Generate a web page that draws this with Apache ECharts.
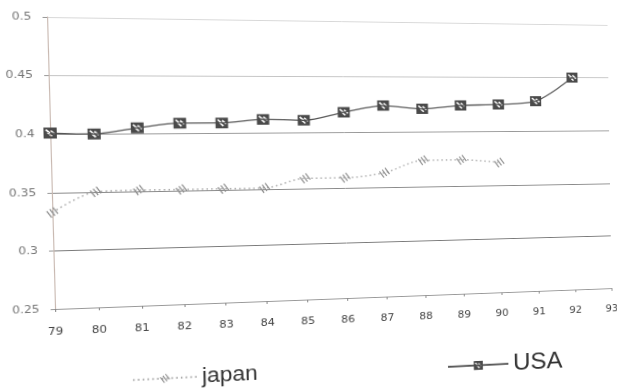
<!DOCTYPE html>
<html>
<head>
<meta charset="utf-8">
<script src="https://cdn.jsdelivr.net/npm/echarts@6/dist/echarts.min.js"></script>
<style>
  html, body { margin: 0; padding: 0; background: #fff; overflow: hidden; width: 617px; height: 390px; }
  #chart { width: 617px; height: 430px; transform-origin: 0 0; }
</style>
</head>
<body>
<div id="chart"></div>
<script>
// Year labels along the bottom (two-digit years)
const years = ['79', '80', '81', '82', '83', '84', '85', '86', '87', '88', '89', '90', '91', '92', '93'];
// Ratio values per year
const usaValues = [0.401, 0.400, 0.405, 0.409, 0.409, 0.412, 0.411, 0.418, 0.424, 0.421, 0.424, 0.425, 0.428, 0.450];
const japanValues = [0.333, 0.350, 0.351, 0.351, 0.351, 0.351, 0.359, 0.359, 0.363, 0.374, 0.374, 0.371];
// Value-axis range
const yMin = 0.25, yMax = 0.5, yStep = 0.05;

// Dark square with three diagonal slits cut out (opposite winding makes holes)
const usaSymbol = 'path://M0 0L10 0L10 10L0 10Z' +
  'M1.2 2.4L4.4 5.6L5.4 4.6L2.2 1.4Z' +
  'M2.6 5.2L5.8 8.4L6.8 7.4L3.6 4.2Z' +
  'M4.8 3.2L8 6.4L9 5.4L5.8 2.2Z';
// Three thin diagonal strokes
const japanSymbol = 'path://M0 3L4 8L4.8 7.4L0.8 2.4Z' +
  'M2.5 1.6L6.5 6.6L7.3 6L3.3 1Z' +
  'M5 0.2L9 5.2L9.8 4.6L5.8 -0.4Z';

// Page tilt: the sheet is seen slightly in perspective, so the flat plot
// rectangle is projected onto a skewed quadrilateral.
const flatCorners = [[48, 17], [612, 17], [48, 310], [612, 310]];
const seenCorners = [[47, 17], [612, 25], [55, 309], [616, 288]];

function homography(src, dst) {
  const A = [], b = [];
  for (let i = 0; i < 4; i++) {
    const [x, y] = src[i], [u, v] = dst[i];
    A.push([x, y, 1, 0, 0, 0, -u * x, -u * y]); b.push(u);
    A.push([0, 0, 0, x, y, 1, -v * x, -v * y]); b.push(v);
  }
  const n = 8;
  for (let c = 0; c < n; c++) {
    let p = c;
    for (let r = c + 1; r < n; r++) if (Math.abs(A[r][c]) > Math.abs(A[p][c])) p = r;
    [A[c], A[p]] = [A[p], A[c]]; [b[c], b[p]] = [b[p], b[c]];
    for (let r = 0; r < n; r++) {
      if (r === c) continue;
      const f = A[r][c] / A[c][c];
      for (let k = c; k < n; k++) A[r][k] -= f * A[c][k];
      b[r] -= f * b[c];
    }
  }
  return b.map((v, i) => v / A[i][i]);
}
function project(h, x, y) {
  const w = h[6] * x + h[7] * y + 1;
  return [(h[0] * x + h[1] * y + h[2]) / w, (h[3] * x + h[4] * y + h[5]) / w];
}
const h = homography(flatCorners, seenCorners);
const hInv = homography(seenCorners, flatCorners);
document.getElementById('chart').style.transform =
  'matrix3d(' + [h[0], h[3], 0, h[6], h[1], h[4], 0, h[7], 0, 0, 1, 0, h[2], h[5], 0, 1].join(',') + ')';

// Legend entries placed by where their icon starts / item centre sits on the tilted page
const japanKeyAt = project(hInv, 132, 382);
const usaKeyAt = project(hInv, 447, 367);

const chart = echarts.init(document.getElementById('chart'), null, { renderer: 'canvas' });
chart.setOption({
  backgroundColor: '#ffffff',
  animation: false,
  grid: { left: 48, right: 5, top: 17, bottom: 120, containLabel: false },
  legend: [
    {
      data: ['japan'], left: japanKeyAt[0] - 5, top: japanKeyAt[1] - 18,
      itemWidth: 60, itemHeight: 12,
      textStyle: { fontFamily: 'Liberation Sans', fontSize: 22, color: '#333' }
    },
    {
      data: ['USA'], left: usaKeyAt[0] - 5, top: usaKeyAt[1] - 18,
      itemWidth: 64, itemHeight: 12,
      textStyle: { fontFamily: 'Liberation Sans', fontSize: 26, color: '#333' }
    }
  ],
  xAxis: {
    type: 'category', data: years, boundaryGap: false,
    axisLine: { lineStyle: { color: '#999', width: 1, type: [6, 3] } },
    axisTick: { show: true, length: 3, lineStyle: { color: '#888' } },
    axisLabel: { margin: 18, fontFamily: 'DejaVu Sans', fontSize: 11, color: '#444' },
    splitLine: { show: false }
  },
  yAxis: {
    type: 'value', min: yMin, max: yMax, interval: yStep,
    axisLine: { show: true, lineStyle: { color: '#c8b8b0', width: 1 } },
    axisTick: { show: true, length: 4, lineStyle: { color: '#999' } },
    axisLabel: { margin: 14, fontFamily: 'DejaVu Sans', fontSize: 11, color: '#777' },
    splitLine: { show: true, lineStyle: { color: ['#999', '#7a7a7a', '#8a8a8a', '#999', '#c4c4c4', '#d8d8d8'], width: 1 } }
  },
  series: [
    {
      name: 'japan', type: 'line', data: japanValues, smooth: 0.3,
      symbol: japanSymbol, symbolSize: [11, 11], showSymbol: true,
      lineStyle: { color: '#aaa', width: 1.5, type: [1.5, 3] },
      itemStyle: { color: '#8c8c8c' }
    },
    {
      name: 'USA', type: 'line', data: usaValues, smooth: 0.3,
      symbol: usaSymbol, symbolSize: [12, 11], showSymbol: true,
      lineStyle: { color: '#555', width: 1.3 },
      itemStyle: { color: '#4a4a4a' }
    }
  ]
});
</script>
</body>
</html>
